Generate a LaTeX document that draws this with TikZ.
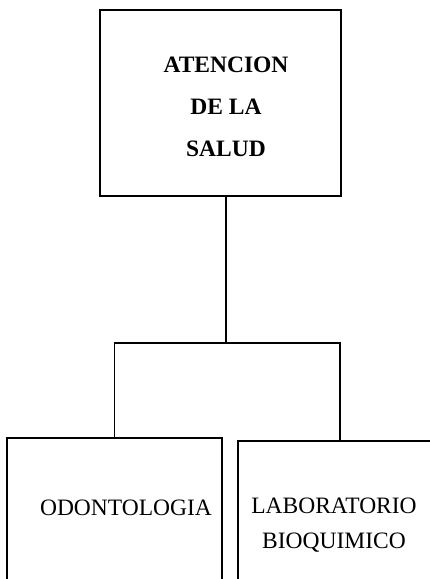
\documentclass[tikz,border=0pt]{standalone}
\usepackage{fontspec}
\setmainfont{Liberation Serif}
\begin{document}
\begin{tikzpicture}[x=1pt,y=-1pt,
  box/.style={draw,line width=1.6pt,inner sep=0pt},
  link/.style={line width=1.3pt},
  lab/.style={inner sep=0pt,align=center}]
\useasboundingbox (0,0) rectangle (430,579);
\clip (0,0) rectangle (430,579);
\node[box,minimum width=241pt,minimum height=186pt] (top) at (220.5,103) {};
\node[box,minimum width=215pt,minimum height=200pt] (lb) at (114.5,538) {};
\node[box,minimum width=204pt,minimum height=200pt] (rb) at (340,541) {};
\node[lab,font=\fontsize{23.5}{42}\selectfont\bfseries] (t1) at (226,107) {ATENCION\\DE LA\\SALUD};
\node[lab,font=\fontsize{23.5}{35}\selectfont] (t2) at (126,508) {ODONTOLOGIA};
\node[lab,font=\fontsize{23.5}{35}\selectfont] (t3) at (334,525.5) {LABORATORIO\\BIOQUIMICO};
\coordinate (j) at (226,343);
\draw[link] (top.south -| j) -- (j);
\draw[link] (lb.north) |- (j) -| (rb.north);
\end{tikzpicture}
\end{document}
